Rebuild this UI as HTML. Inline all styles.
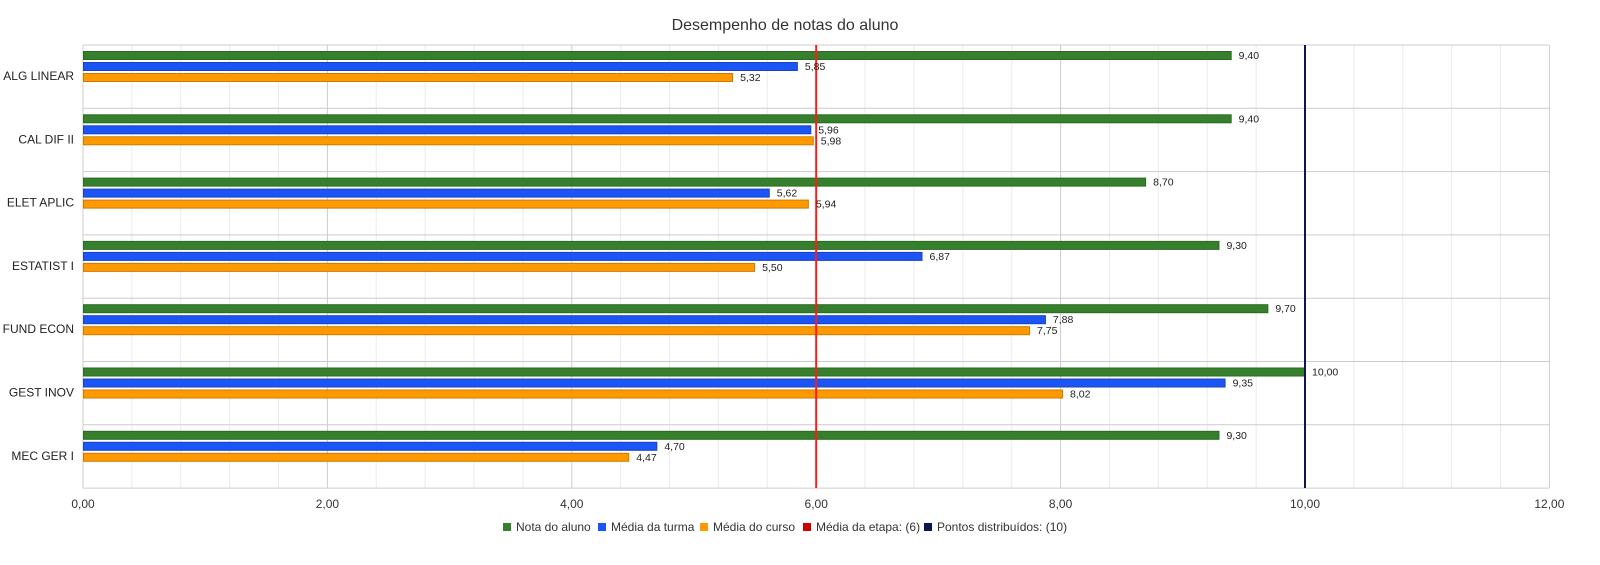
<!DOCTYPE html>
<html><head><meta charset="utf-8"><style>
body{margin:0;background:#fff;}
svg text{font-family:"Liberation Sans",Arial,sans-serif;}
</style></head><body>
<svg width="1600" height="560" xmlns="http://www.w3.org/2000/svg">
<rect width="1600" height="560" fill="#fff"/>
<text x="785" y="30" text-anchor="middle" font-size="16" fill="#333">Desempenho de notas do aluno</text>
<g id="grid"></g>
<g id="bars"></g>
<g id="labels"></g>
<script>
var x0=83,sc=122.2,top0=45,rh=63.3;
var g=document.getElementById('grid'),b=document.getElementById('bars'),l=document.getElementById('labels');
var ns='http://www.w3.org/2000/svg';
function el(p,t,a,txt){var e=document.createElementNS(ns,t);for(var k in a)e.setAttribute(k,a[k]);if(txt!==undefined)e.textContent=txt;p.appendChild(e);return e;}
for(var i=0;i<=30;i++){var x=x0+i*0.4*sc;var maj=i%5==0;el(g,'line',{x1:x,x2:x,y1:top0,y2:488,stroke:maj?'#ccc':'#ebebeb','stroke-width':1});
if(maj)el(l,'text',{x:x,y:508,'text-anchor':'middle','font-size':12,fill:'#333'},(i*0.4).toFixed(2).replace('.',','));}
for(var r=0;r<=7;r++){var y=top0+r*rh;el(g,'line',{x1:x0,x2:1549,y1:y,y2:y,stroke:'#ccc','stroke-width':1});}
var d=[["ALG LINEAR",9.4,5.85,5.32],["CAL DIF II",9.4,5.96,5.98],["ELET APLIC",8.7,5.62,5.94],["ESTATIST I",9.3,6.87,5.5],["FUND ECON",9.7,7.88,7.75],["GEST INOV",10,9.35,8.02],["MEC GER I",9.3,4.7,4.47]];
var cols=[['#36802d','#2a6a22'],['#1c55f5','#1a43c0'],['#ff9900','#cc7a00']];
d.forEach(function(row,i){var y=top0+i*rh;
el(l,'text',{x:74,y:y+35,'text-anchor':'end','font-size':12,fill:'#222'},row[0]);
for(var j=0;j<3;j++){var by=y+6+j*11;var w=row[j+1]*sc;
el(b,'rect',{x:x0+0.5,y:by+0.5,width:w-1,height:8,fill:cols[j][0],stroke:cols[j][1],'stroke-width':1});
el(l,'text',{x:x0+w+7,y:by+8,'font-size':10.5,fill:'#222'},row[j+1].toFixed(2).replace('.',','));}
});
el(b,'line',{x1:x0+6*sc,x2:x0+6*sc,y1:top0,y2:488,stroke:'#ff1a1a','stroke-width':2});
el(b,'line',{x1:x0+10*sc,x2:x0+10*sc,y1:top0,y2:488,stroke:'#0d1650','stroke-width':2});
var lg=[['Nota do aluno','#36802d',503],['Média da turma','#1c55f5',598],['Média do curso','#ff9900',700],['Média da etapa: (6)','#cc0000',803],['Pontos distribuídos: (10)','#0d1650',924]];
lg.forEach(function(e){el(l,'rect',{x:e[2],y:523,width:8,height:8,fill:e[1]});el(l,'text',{x:e[2]+13,y:531,'font-size':12,fill:'#333'},e[0]);});
</script>
</svg>
</body></html>
